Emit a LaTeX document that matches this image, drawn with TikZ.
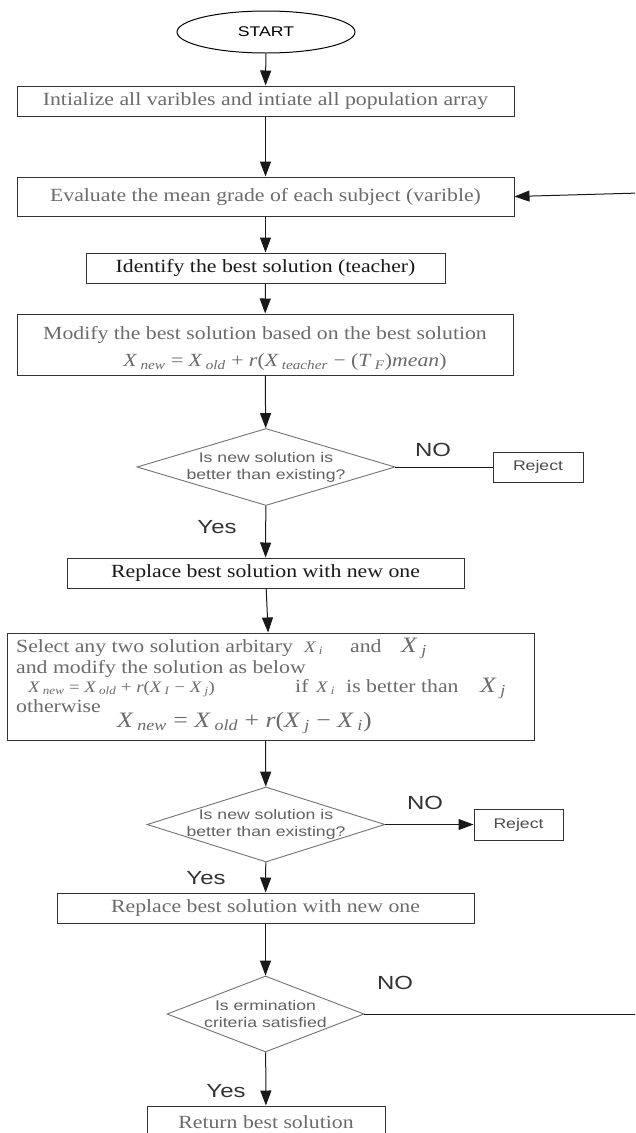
\documentclass[tikz,border=0pt]{standalone}
\usepackage{fontspec}
\usepackage{graphicx}
\usetikzlibrary{shapes.geometric,arrows.meta}
\newfontfamily\serifA[FakeStretch=1.17]{Liberation Serif}
\newfontfamily\sansA[FakeStretch=1.26]{Liberation Sans}
\newcommand\bxfont{\serifA\fontsize{18.6}{20}\selectfont}
\newcommand\smfont{\serifA\fontsize{16}{17}\selectfont}
\newcommand\bgfont{\serifA\fontsize{22}{23}\selectfont}
\newcommand\dfont{\sansA\fontsize{14}{17}\selectfont}
\newcommand\lfont{\sansA\fontsize{19}{20}\selectfont}
\newcommand\xs[2]{\textit{#1}\,\textsubscript{\textit{#2}}}
\definecolor{gtext}{gray}{0.42}
\definecolor{dtext}{gray}{0.1}
\tikzset{
  bx/.style={draw=black!80, line width=1pt, inner sep=0pt, font=\bxfont},
  dia/.style={diamond, draw=black!55, line width=0.9pt, inner sep=0pt},
  dtxt/.style={font=\dfont, text=black!62, align=center, inner sep=0pt},
  lbl/.style={font=\lfont, text=black!80, inner sep=0pt},
  rej/.style={draw=black!80, line width=1pt, inner sep=0pt, font=\dfont, text=black!70},
  arr/.style={-{Triangle[length=15pt,width=11pt]}, line width=1pt, draw=black!90},
  ln/.style={line width=1pt, draw=black!90},
  frag/.style={anchor=base west, inner sep=0pt, text=gtext}
}
\begin{document}
\begin{tikzpicture}[x=1pt,y=-1pt]
\useasboundingbox (0,0) rectangle (635,1133);
\fill[white] (0,0) rectangle (635,1133);
\clip (0,0) rectangle (635,1133);

\node[ellipse, draw=black, line width=1pt, minimum width=178pt, minimum height=42pt, inner sep=0pt, font=\sansA\fontsize{14}{14}\selectfont] (start) at (266,32) {START};

\node[bx, minimum width=497pt, minimum height=30pt, text=gtext] (b1) at (265.5,101) {Intialize all varibles and intiate all population array};
\node[bx, minimum width=497pt, minimum height=39pt, text=gtext] (b2) at (265.5,196.5) {Evaluate the mean grade of each subject (varible)};
\node[bx, minimum width=359pt, minimum height=30pt, text=dtext] (b3) at (265.5,268) {Identify the best solution (teacher)};

\node[bx, minimum width=496pt, minimum height=61pt] (b4) at (265,344.5) {};
\node[font=\bxfont, text=gtext, inner sep=0pt] (b4a) at (265,335) {Modify the best solution based on the best solution};
\node[font=\bxfont, text=gtext, inner sep=0pt] (b4b) at (285,362) {\xs{X}{new} = \xs{X}{old} + \textit{r}(\xs{X}{teacher} − (\xs{T}{F})\textit{mean})};

\node[dia, minimum width=258pt, minimum height=77pt] (d1) at (266,467) {};
\node[dtxt] (d1t) at (266,467) {Is new solution is\\better than existing?};
\node[rej, minimum width=90pt, minimum height=30pt] (r1) at (538,467) {Reject};
\node[lbl] (no1) at (433,450) {NO};
\node[lbl] (yes1) at (217,527) {Yes};

\node[bx, minimum width=397pt, minimum height=30pt, text=dtext] (b5) at (265.5,573) {Replace best solution with new one};

\node[bx, minimum width=527pt, minimum height=107pt] (b6) at (270.5,686.5) {};
\node[frag, font=\bxfont] (l1a) at (16,652) {Select any two solution arbitary};
\node[frag, font=\smfont] (l1b) at (304,652) {\xs{X}{i}};
\node[frag, font=\bxfont] (l1c) at (350,652) {and};
\node[frag, font=\bgfont] (l1d) at (401,652) {\xs{X}{j}};
\node[frag, font=\bxfont] (l2) at (16,673) {and modify the solution as below};
\node[frag, font=\smfont] (l3a) at (28,692) {\xs{X}{new} = \xs{X}{old} + \textit{r}(\xs{X}{I} − \xs{X}{j})};
\node[frag, font=\bxfont] (l3b) at (295,692) {if};
\node[frag, font=\smfont] (l3c) at (316,692) {\xs{X}{i}};
\node[frag, font=\bxfont] (l3d) at (346,692) {is better than};
\node[frag, font=\bgfont] (l3e) at (480,692) {\xs{X}{j}};
\node[frag, font=\bxfont] (l4a) at (16,712) {otherwise};
\node[frag, font=\bgfont] (l4b) at (117,727) {\xs{X}{new} = \xs{X}{old} + \textit{r}(\xs{X}{j} − \xs{X}{i})};

\node[dia, minimum width=238pt, minimum height=75pt] (d2) at (266,824.5) {};
\node[dtxt] (d2t) at (266,824.5) {Is new solution is\\better than existing?};
\node[rej, minimum width=89pt, minimum height=31pt] (r2) at (518.5,824.5) {Reject};
\node[lbl] (no2) at (425,803) {NO};
\node[lbl] (yes2) at (206,878) {Yes};

\node[bx, minimum width=417pt, minimum height=30pt, text=gtext] (b7) at (265.5,908) {Replace best solution with new one};

\node[dia, minimum width=197pt, minimum height=76pt] (d3) at (265.5,1014) {};
\node[dtxt] (d3t) at (265.5,1014) {Is ermination\\criteria satisfied};
\node[lbl] (no3) at (395,983) {NO};
\node[lbl] (yes3) at (226,1091) {Yes};

\node[bx, minimum width=238pt, minimum height=32pt, text=gtext] (ret) at (266,1122) {Return best solution};

\coordinate (fb) at (640,193);
\coordinate (tr) at (640,1014);

\draw[arr] (start) -- (b1);
\draw[arr] (b1) -- (b2);
\draw[arr] (b2) -- (b3);
\draw[arr] (b3) -- (b4);
\draw[arr] (b4) -- (d1);
\draw[ln] (d1.east) -- (r1.west);
\draw[arr] (d1) -- (b5);
\draw[arr] (b5) -- (b6);
\draw[arr] (b6.south -| b5.south) -- (d2);
\draw[arr] (d2.east) -- (r2.west);
\draw[arr] (d2) -- (b7);
\draw[arr] (b7) -- (d3);
\draw[arr] (d3) -- (ret);
\draw[ln] (d3.east) -- (tr);
\draw[arr] (fb) -- (b2.east);
\end{tikzpicture}
\end{document}
